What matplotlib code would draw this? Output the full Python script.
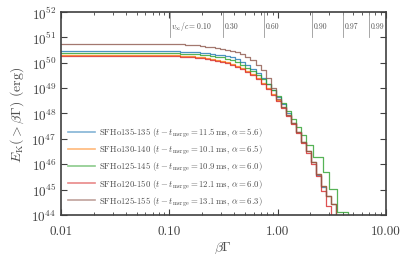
"""Cumulative kinetic energy distribution E_K(>betaGamma) for five SFHo models."""

import numpy as np
import matplotlib
matplotlib.use("Agg")
import matplotlib.pyplot as plt
from matplotlib.ticker import FixedLocator, FixedFormatter

plt.rcParams["font.family"] = "serif"
plt.rcParams["font.serif"] = ["cmr10", "DejaVu Serif"]
plt.rcParams["mathtext.fontset"] = "cm"
plt.rcParams["axes.formatter.use_mathtext"] = True

# ---- data ----
models = ["SFHo135-135", "SFHo130-140", "SFHo125-145", "SFHo120-150", "SFHo125-155"]
t_merge = [11.5, 10.1, 10.9, 12.1, 13.1]
alphas = [5.6, 6.5, 6.0, 6.0, 6.3]
colors = ["#1f77b4", "#ff7f0e", "#2ca02c", "#d62728", "#8c564b"]

# left edges of the histogram steps in betaGamma, and log10 E_K of each step
bg_main = [0.010, 0.114, 0.126, 0.141, 0.156, 0.174, 0.194, 0.215, 0.240, 0.267,
           0.297, 0.330, 0.367, 0.408, 0.454, 0.505, 0.562, 0.626, 0.696, 0.774,
           0.861, 0.958, 1.066, 1.186, 1.319, 1.468, 1.633, 1.816, 2.021, 2.248,
           2.501, 2.783, 3.096, 3.444]
bg_125 = bg_main[:27] + [1.816, 2.11, 2.61, 2.97, 3.51, 4.45]

logE_135 = [50.46, 50.45, 50.44, 50.43, 50.42, 50.41, 50.39, 50.37, 50.35, 50.32,
            50.29, 50.25, 50.21, 50.14, 50.04, 49.91, 49.75, 49.59, 49.39, 49.16,
            48.92, 48.65, 48.37, 48.02, 47.62, 47.27, 46.87, 46.52, 46.09, 45.58,
            45.10, 44.75, 44.43, 40.0]
logE_130 = [50.30, 50.29, 50.28, 50.27, 50.26, 50.24, 50.22, 50.19, 50.16, 50.12,
            50.08, 50.02, 49.96, 49.88, 49.79, 49.67, 49.55, 49.39, 49.20, 49.00,
            48.76, 48.53, 48.25, 47.94, 47.62, 47.27, 46.87, 46.52, 46.09, 45.61,
            45.14, 44.75, 44.43, 40.0]
logE_125 = [50.38, 50.37, 50.36, 50.35, 50.34, 50.33, 50.31, 50.29, 50.27, 50.24,
            50.21, 50.16, 50.10, 50.02, 49.93, 49.81, 49.67, 49.51, 49.35, 49.16,
            48.92, 48.69, 48.41, 48.09, 47.78, 47.46, 47.15, 46.75, 46.30, 45.69,
            45.02, 44.12, 40.0]
logE_120 = [50.26, 50.25, 50.24, 50.23, 50.22, 50.20, 50.18, 50.15, 50.12, 50.08,
            50.04, 49.98, 49.92, 49.84, 49.75, 49.63, 49.51, 49.35, 49.16, 48.96,
            48.73, 48.49, 48.21, 47.90, 47.58, 47.22, 46.82, 46.45, 46.02, 45.52,
            44.95, 44.35, 40.0, 40.0]
logE_155 = [50.73, 50.72, 50.72, 50.70, 50.69, 50.68, 50.66, 50.64, 50.62, 50.59,
            50.56, 50.52, 50.48, 50.44, 50.36, 50.24, 50.10, 49.92, 49.71, 49.39,
            49.00, 48.57, 48.25, 47.94, 47.62, 47.27, 46.87, 46.52, 46.09, 45.61,
            45.14, 44.75, 44.43, 40.0]

v_marks = [0.10, 0.30, 0.60, 0.90, 0.97, 0.99]

series_bg = [bg_main, bg_main, bg_125, bg_main, bg_main]
series_logE = [logE_135, logE_130, logE_125, logE_120, logE_155]


def main():
    fig, ax = plt.subplots(figsize=(4.07, 2.55), dpi=100)
    fig.subplots_adjust(left=0.15, right=0.948, top=0.949, bottom=0.153)

    for name, tm, a, col, bg, le in zip(models, t_merge, alphas, colors,
                                        series_bg, series_logE):
        label = (f"{name} ($t - t_{{\\rm merge}} = {tm:.1f}\\,$ms, "
                 f"$\\alpha = {a:.1f}$)")
        ax.step(bg, 10.0 ** np.array(le), where="post", color=col, lw=0.9,
                alpha=0.8, label=label)

    # terminal velocity markers along the top
    for i, v in enumerate(v_marks):
        bgv = v / np.sqrt(1.0 - v ** 2)
        ax.plot([bgv, bgv], [1e51, 1e52], color="0.6", lw=0.6)
        txt = f"{v:.2f}" if i else f"$v_\\infty/c = {v:.2f}$"
        ax.text(bgv * 1.04, 10 ** 51.45, txt, fontsize=5.5, ha="left",
                va="center", color="0.3")

    ax.set_xscale("log")
    ax.set_yscale("log")
    ax.set_xlim(0.01, 10)
    ax.set_ylim(1e44, 1e52)
    ax.xaxis.set_major_locator(FixedLocator([0.01, 0.1, 1, 10]))
    ax.xaxis.set_major_formatter(FixedFormatter(["0.01", "0.10", "1.00", "10.00"]))
    ax.yaxis.set_major_locator(FixedLocator([10.0 ** k for k in range(44, 53)]))

    ax.tick_params(which="both", direction="in", top=True, right=True,
                   labelsize=9.5, colors="0.25")
    ax.tick_params(axis="x", pad=7)
    ax.tick_params(which="major", length=4, width=0.8)
    ax.tick_params(which="minor", length=2, width=0.6)
    for sp in ax.spines.values():
        sp.set_linewidth(1.2)
        sp.set_color("0.25")

    ax.set_xlabel(r"$\beta\Gamma$", fontsize=10, color="0.3", labelpad=2)
    ax.set_ylabel(r"$E_{\rm K}(>\beta\Gamma)$ (erg)", fontsize=10, color="0.3")

    leg = ax.legend(loc="lower left", fontsize=6.3, frameon=False,
                    handlelength=3.0, handletextpad=0.5, labelspacing=0.45,
                    borderaxespad=0.45)
    for h in leg.get_lines():
        h.set_alpha(0.55)
        h.set_linewidth(1.2)
    for t in leg.get_texts():
        t.set_color("0.3")

    fig.savefig("out.png", dpi=100)


if __name__ == "__main__":
    main()
